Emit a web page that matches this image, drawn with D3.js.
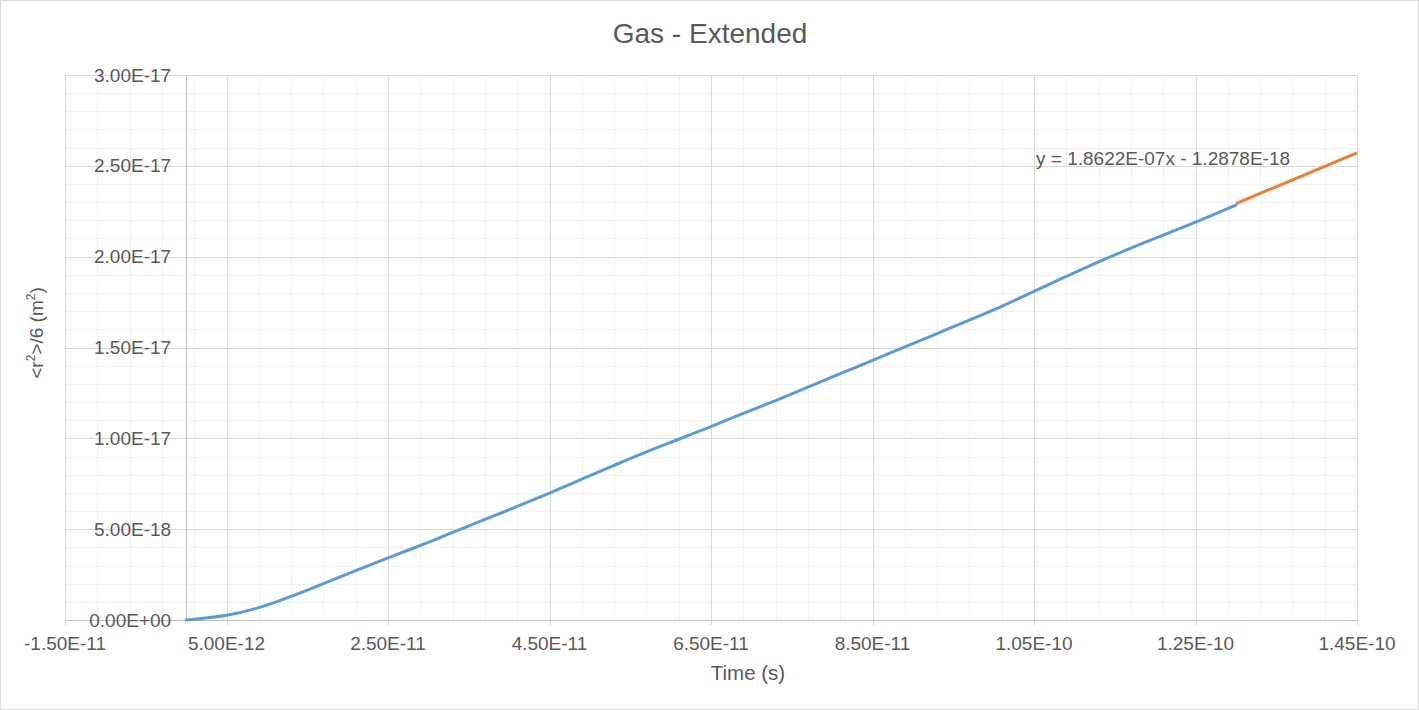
<!DOCTYPE html>
<meta charset="utf-8">
<style>
  body { margin: 0; background: #fff; }
  text { font-family: "Liberation Sans", Arial, sans-serif; fill: #595959; }
</style>
<body>
<div id="chart"></div>
<script src="https://d3js.org/d3.v7.min.js"></script>
<script>
  // time (s)
  var times = [0, 5e-12, 9e-12, 1.3e-11, 1.7e-11, 2.1e-11, 2.5e-11, 2.9e-11, 3.3e-11, 3.7e-11,
    4.1e-11, 4.5e-11, 4.9e-11, 5.3e-11, 5.7e-11, 6.1e-11, 6.5e-11, 6.9e-11, 7.3e-11, 7.7e-11,
    8.1e-11, 8.5e-11, 8.9e-11, 9.3e-11, 9.7e-11, 1.01e-10, 1.05e-10, 1.09e-10, 1.13e-10,
    1.17e-10, 1.21e-10, 1.25e-10, 1.3e-10];
  // <r^2>/6 (m^2)
  var msd = [0, 2.6e-19, 6.8e-19, 1.30e-18, 2.00e-18, 2.72e-18, 3.42e-18, 4.10e-18, 4.82e-18, 5.54e-18,
    6.25e-18, 6.99e-18, 7.75e-18, 8.51e-18, 9.25e-18, 9.95e-18, 1.065e-17, 1.137e-17, 1.208e-17, 1.282e-17,
    1.356e-17, 1.429e-17, 1.503e-17, 1.577e-17, 1.651e-17, 1.727e-17, 1.809e-17, 1.891e-17, 1.971e-17,
    2.047e-17, 2.119e-17, 2.190e-17, 2.284e-17];
  // linear trendline, forecast forward
  var trendTimes = [1.3e-10, 1.45e-10];
  var trendValues = [2.292e-17, 2.5714e-17];
  var trendLabel = "y = 1.8622E-07x - 1.2878E-18";

  var xTicks = [-1.5e-11, 5e-12, 2.5e-11, 4.5e-11, 6.5e-11, 8.5e-11, 1.05e-10, 1.25e-10, 1.45e-10];
  var xTickLabels = ["-1.50E-11", "5.00E-12", "2.50E-11", "4.50E-11", "6.50E-11", "8.50E-11", "1.05E-10", "1.25E-10", "1.45E-10"];
  var yTicks = [0, 5e-18, 1e-17, 1.5e-17, 2e-17, 2.5e-17, 3e-17];
  var yTickLabels = ["0.00E+00", "5.00E-18", "1.00E-17", "1.50E-17", "2.00E-17", "2.50E-17", "3.00E-17"];

  var W = 1419, H = 710;
  var margin = { top: 75, right: 62, bottom: 90, left: 65 };
  var width = W - margin.left - margin.right;
  var height = H - margin.top - margin.bottom;

  var svg = d3.select("#chart").append("svg")
    .attr("width", W)
    .attr("height", H);

  svg.append("rect")
    .attr("x", 0.5).attr("y", 0.5)
    .attr("width", W - 1).attr("height", H - 1)
    .attr("fill", "#fff")
    .attr("stroke", "#d9d9d9");

  var g = svg.append("g")
    .attr("transform", "translate(" + margin.left + "," + margin.top + ")");

  var x = d3.scaleLinear().domain([-1.5e-11, 1.45e-10]).range([0, width]);
  var y = d3.scaleLinear().domain([0, 3e-17]).range([height, 0]);

  // minor grid
  var xMinor = d3.range(0, 41).map(function (i) { return -1.5e-11 + i * 4e-12; });
  var yMinor = d3.range(0, 31).map(function (i) { return i * 1e-18; });

  g.append("g").selectAll("line").data(xMinor).enter().append("line")
    .attr("x1", function (d) { return Math.round(x(d)) + 0.5; })
    .attr("x2", function (d) { return Math.round(x(d)) + 0.5; })
    .attr("y1", 0).attr("y2", height)
    .attr("stroke", "#f2f2f2");
  g.append("g").selectAll("line").data(yMinor).enter().append("line")
    .attr("y1", function (d) { return Math.round(y(d)) + 0.5; })
    .attr("y2", function (d) { return Math.round(y(d)) + 0.5; })
    .attr("x1", 0).attr("x2", width)
    .attr("stroke", "#f2f2f2");

  // major grid
  g.append("g").selectAll("line").data(xTicks).enter().append("line")
    .attr("x1", function (d) { return Math.round(x(d)) + 0.5; })
    .attr("x2", function (d) { return Math.round(x(d)) + 0.5; })
    .attr("y1", 0).attr("y2", height + 5)
    .attr("stroke", "#d9d9d9");
  g.append("g").selectAll("line").data(yTicks).enter().append("line")
    .attr("y1", function (d) { return Math.round(y(d)) + 0.5; })
    .attr("y2", function (d) { return Math.round(y(d)) + 0.5; })
    .attr("x1", 0).attr("x2", width)
    .attr("stroke", "#d9d9d9");

  // axis lines
  g.append("line")
    .attr("x1", 0).attr("x2", width)
    .attr("y1", Math.round(y(0)) + 0.5).attr("y2", Math.round(y(0)) + 0.5)
    .attr("stroke", "#bfbfbf");
  g.append("line")
    .attr("x1", Math.round(x(0)) + 0.5).attr("x2", Math.round(x(0)) + 0.5)
    .attr("y1", 0).attr("y2", height)
    .attr("stroke", "#bfbfbf");

  // tick labels
  g.append("g").selectAll("text").data(xTicks).enter().append("text")
    .attr("x", function (d) { return x(d); })
    .attr("y", height + 30)
    .attr("text-anchor", "middle")
    .style("font-size", "19px")
    .text(function (d, i) { return xTickLabels[i]; });

  g.append("g").selectAll("text").data(yTicks).enter().append("text")
    .attr("x", x(0) - 15)
    .attr("y", function (d) { return y(d); })
    .attr("dy", "0.35em")
    .attr("text-anchor", "end")
    .style("font-size", "19px")
    .text(function (d, i) { return yTickLabels[i]; });

  // series
  var pts = times.map(function (t, i) { return [t, msd[i]]; });
  var line = d3.line()
    .x(function (d) { return x(d[0]); })
    .y(function (d) { return y(d[1]); })
    .curve(d3.curveCatmullRom);

  var trendPts = trendTimes.map(function (t, i) { return [t, trendValues[i]]; });
  g.append("path")
    .datum(trendPts)
    .attr("d", line)
    .attr("fill", "none")
    .attr("stroke", "#ed7d31")
    .attr("stroke-width", 3);

  g.append("path")
    .datum(pts)
    .attr("d", line)
    .attr("fill", "none")
    .attr("stroke", "#5b9bd5")
    .attr("stroke-width", 3)
    .attr("stroke-linecap", "round");

  g.append("text")
    .attr("x", x(1.05e-10) + 2)
    .attr("y", 90)
    .style("font-size", "19px")
    .text(trendLabel);

  // titles
  svg.append("text")
    .attr("x", 710)
    .attr("y", 43)
    .attr("text-anchor", "middle")
    .style("font-size", "28px")
    .text("Gas - Extended");

  svg.append("text")
    .attr("x", 748)
    .attr("y", 680)
    .attr("text-anchor", "middle")
    .style("font-size", "20.5px")
    .text("Time (s)");

  var yt = svg.append("text")
    .attr("transform", "translate(43,333) rotate(-90)")
    .attr("text-anchor", "middle")
    .style("font-size", "19px");
  yt.append("tspan").text("<r");
  yt.append("tspan").attr("dy", -8).style("font-size", "12px").text("2");
  yt.append("tspan").attr("dy", 8).text(">/6 (m");
  yt.append("tspan").attr("dy", -8).style("font-size", "12px").text("2");
  yt.append("tspan").attr("dy", 8).text(")");
</script>
</body>
